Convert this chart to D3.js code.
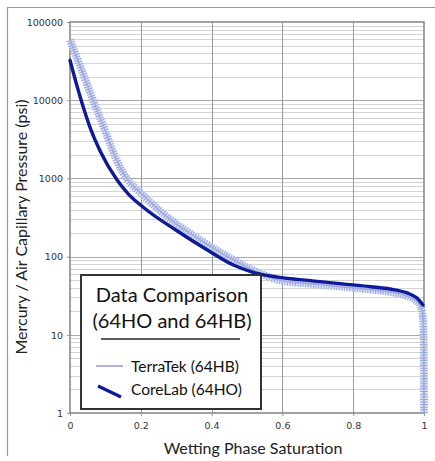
<!DOCTYPE html>
<html>
<head>
<meta charset="utf-8">
<script src="https://cdn.jsdelivr.net/npm/d3@7"></script>
<style>
  html, body { margin: 0; padding: 0; background: #fff; }
  svg { display: block; }
</style>
</head>
<body>
<svg id="chart" width="435" height="461"></svg>
<script>
// Capillary pressure curves: wetting phase saturation vs. pressure (psi)
const coreLabSat = [0, 0.02, 0.037, 0.056, 0.085, 0.133, 0.165, 0.206, 0.302, 0.395, 0.46, 0.517, 0.556, 0.65, 0.706, 0.782, 0.85, 0.904, 0.952, 0.98, 0.997];
const coreLabPc  = [32400, 15100, 8300, 4570, 2240, 955, 631, 431, 214, 116, 78.5, 63, 57.5, 50.7, 47.9, 44.2, 41.2, 38.5, 34.3, 29.5, 24];

const terraTekSat = [0, 0.03, 0.065, 0.1, 0.13, 0.161, 0.2, 0.254, 0.3, 0.347, 0.4, 0.444, 0.517, 0.6, 0.7, 0.8, 0.9, 0.95, 0.98, 0.993, 0.998, 0.9995, 1.0];
const terraTekPc  = [58900, 26300, 10000, 3980, 1780, 980, 650, 385, 262, 188, 132, 101, 67, 49, 44.2, 39.8, 35.5, 31.6, 26.9, 21.4, 14.1, 5, 1];

const xTicks = [0, 0.2, 0.4, 0.6, 0.8, 1];
const yTicks = [1, 10, 100, 1000, 10000, 100000];

const seriesNames = ["TerraTek (64HB)", "CoreLab (64HO)"];
const legendTitle = ["Data Comparison", "(64HO and 64HB)"];
const xTitle = "Wetting Phase Saturation";
const yTitle = "Mercury / Air Capillary Pressure (psi)";

const svg = d3.select("#chart");
const plot = { left: 70, right: 424, top: 22, bottom: 413 };

const x = d3.scaleLinear().domain([0, 1]).range([plot.left, plot.right]);
const y = d3.scaleLog().domain([1, 100000]).range([plot.bottom, plot.top]);

// outer frame lines
svg.append("line").attr("x1", 7).attr("x2", 435).attr("y1", 7.5).attr("y2", 7.5)
  .attr("stroke", "#9a9a9a").attr("stroke-width", 1.2);
svg.append("line").attr("x1", 7.5).attr("x2", 7.5).attr("y1", 7).attr("y2", 456)
  .attr("stroke", "#9a9a9a").attr("stroke-width", 1.2);

// minor horizontal gridlines (2..9 within each decade)
const minor = [];
for (let d = 1; d < 100000; d *= 10) for (let k = 2; k <= 9; k++) minor.push(d * k);
const grid = svg.append("g");
grid.selectAll("line.minor").data(minor).join("line")
  .attr("x1", plot.left).attr("x2", plot.right)
  .attr("y1", d => Math.round(y(d)) + 0.5).attr("y2", d => Math.round(y(d)) + 0.5)
  .attr("stroke", "#d4d4d4").attr("stroke-width", 1);
grid.selectAll("line.major").data(yTicks.slice(1, -1)).join("line")
  .attr("x1", plot.left).attr("x2", plot.right)
  .attr("y1", d => Math.round(y(d)) + 0.5).attr("y2", d => Math.round(y(d)) + 0.5)
  .attr("stroke", "#a8a8a8").attr("stroke-width", 1);
grid.selectAll("line.vert").data(xTicks.slice(1, -1)).join("line")
  .attr("x1", d => Math.round(x(d)) + 0.5).attr("x2", d => Math.round(x(d)) + 0.5)
  .attr("y1", plot.top).attr("y2", plot.bottom)
  .attr("stroke", "#9a9a9a").attr("stroke-width", 1);

// axes
const fmt = d3.format("d");
const yAxis = svg.append("g").attr("transform", `translate(${plot.left},0)`)
  .call(d3.axisLeft(y).tickValues(yTicks).tickFormat(fmt).tickSize(3).tickPadding(4));
const xAxis = svg.append("g").attr("transform", `translate(0,${plot.bottom})`)
  .call(d3.axisBottom(x).tickValues(xTicks).tickFormat(d => d === 0 || d === 1 ? fmt(d) : d).tickSize(3).tickPadding(6));
[yAxis, xAxis].forEach(a => {
  a.select(".domain").remove();
  a.selectAll(".tick line").attr("stroke", "#999");
  a.selectAll("text").attr("fill", "#333").style("font-family", "DejaVu Sans, sans-serif")
    .style("font-size", "9.5px");
});
yAxis.selectAll(".tick text").attr("dy", "0.35em");

// plot border
svg.append("rect").attr("x", plot.left).attr("y", plot.top)
  .attr("width", plot.right - plot.left).attr("height", plot.bottom - plot.top)
  .attr("fill", "none").attr("stroke", "#8a8a8a").attr("stroke-width", 1.6);

// curves
const curve = d3.line().curve(d3.curveMonotoneX);
const terraPath = curve(terraTekSat.map((s, i) => [x(s), y(terraTekPc[i])]));
const corePath = curve(coreLabSat.map((s, i) => [x(s), y(coreLabPc[i])]));

// TerraTek: hatched marker band with a light core
svg.append("path").attr("d", terraPath).attr("fill", "none")
  .attr("stroke", "#cfdbf2").attr("stroke-width", 7).attr("opacity", 0.8);
svg.append("path").attr("d", terraPath).attr("fill", "none")
  .attr("stroke", "#93a9de").attr("stroke-width", 8).attr("stroke-dasharray", "1 1.6");
svg.append("path").attr("d", terraPath).attr("fill", "none")
  .attr("stroke", "#aaa5e0").attr("stroke-width", 1.6);

// CoreLab: solid dark blue
svg.append("path").attr("d", corePath)
  .attr("fill", "none").attr("stroke", "#0d1a9a").attr("stroke-width", 3.4)
  .attr("stroke-linecap", "round");

// axis titles
svg.append("text").attr("x", 253).attr("y", 454)
  .attr("text-anchor", "middle").attr("fill", "#222")
  .style("font-family", "Lato, sans-serif").style("font-size", "16px").text(xTitle);
svg.append("text").attr("transform", "translate(27,227) rotate(-90)")
  .attr("text-anchor", "middle").attr("fill", "#222")
  .style("font-family", "Lato, sans-serif").style("font-size", "16px").text(yTitle);

// legend
const lg = svg.append("g");
lg.append("rect").attr("x", 81).attr("y", 275).attr("width", 180).attr("height", 134)
  .attr("fill", "#fff").attr("stroke", "#333").attr("stroke-width", 2);
lg.selectAll("text.title").data(legendTitle).join("text")
  .attr("x", 172).attr("y", (d, i) => 302 + i * 26)
  .attr("text-anchor", "middle").attr("fill", "#111")
  .style("font-family", "Lato, sans-serif").style("font-size", "20px").text(d => d);
lg.append("line").attr("x1", 101).attr("x2", 240).attr("y1", 339).attr("y2", 339)
  .attr("stroke", "#222").attr("stroke-width", 1.4);
lg.append("line").attr("x1", 96).attr("x2", 123).attr("y1", 366).attr("y2", 366)
  .attr("stroke", "#aaa5e0").attr("stroke-width", 1.8);
lg.append("line").attr("x1", 98).attr("x2", 121).attr("y1", 386).attr("y2", 397)
  .attr("stroke", "#0d1a9a").attr("stroke-width", 3.4);
lg.selectAll("text.item").data(seriesNames).join("text")
  .attr("x", 131).attr("y", (d, i) => 372 + i * 23)
  .attr("fill", "#111")
  .style("font-family", "Lato, sans-serif").style("font-size", "15.5px").text(d => d);
</script>
</body>
</html>
